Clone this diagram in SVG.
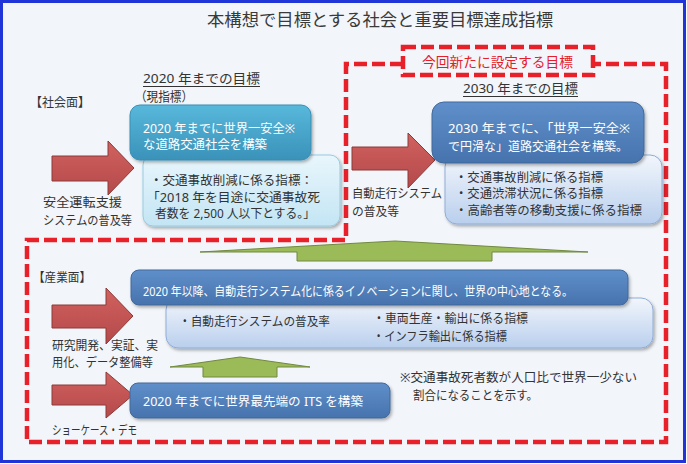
<svg xmlns="http://www.w3.org/2000/svg" width="687" height="464" viewBox="0 0 687 464">
<style>
text{font-family:"Noto Sans","Noto Sans CJK JP",sans-serif;fill:#333}
.t{font-size:12.5px}
.w{fill:#fff;font-size:12.5px}
.h{font-size:13px}
.red{fill:#e3202a;font-size:13.5px}
.dash{fill:none;stroke:#e8202a;stroke-width:4.5;stroke-dasharray:13 5}
.ul{stroke:#333;stroke-width:1}
.ra{fill:url(#gRed);stroke:#8c3a38;stroke-width:1}
.ga{fill:#9bbb59;stroke:#71893f;stroke-width:1}
.teal{fill:url(#gTeal);stroke:#3a8db3;stroke-width:1}
.blue{fill:url(#gBlue);stroke:#41689a;stroke-width:1}
.lc{fill:url(#gLc);stroke:#95cbe2;stroke-width:1}
.lb{fill:url(#gLb);stroke:#8fadd8;stroke-width:1}
</style>
<defs>
<linearGradient id="gRed" x1="0" y1="0" x2="0" y2="1"><stop offset="0" stop-color="#d0625f"/><stop offset="1" stop-color="#b5484a"/></linearGradient>
<linearGradient id="gTeal" x1="0" y1="0" x2="0" y2="1"><stop offset="0" stop-color="#58b8dc"/><stop offset="1" stop-color="#3a92b9"/></linearGradient>
<linearGradient id="gBlue" x1="0" y1="0" x2="0" y2="1"><stop offset="0" stop-color="#5f8fca"/><stop offset="1" stop-color="#4773ad"/></linearGradient>
<linearGradient id="gLc" x1="0" y1="0" x2="0" y2="1"><stop offset="0" stop-color="#e9f6fc"/><stop offset="1" stop-color="#c3e5f4"/></linearGradient>
<linearGradient id="gLb" x1="0" y1="0" x2="0" y2="1"><stop offset="0" stop-color="#f2f6fc"/><stop offset="1" stop-color="#b9cfed"/></linearGradient>
<filter id="sh" x="-10%" y="-20%" width="130%" height="150%"><feDropShadow dx="1.5" dy="2" stdDeviation="1.5" flood-color="#000" flood-opacity="0.3"/></filter>
</defs>

<rect x="1.5" y="1.5" width="683" height="460" fill="#f2f5f9" stroke="#2035d8" stroke-width="3"/>

<text x="207" y="26" style="font-size:17px;fill:#3a3a3a" textLength="346" lengthAdjust="spacingAndGlyphs">本構想で目標とする社会と重要目標達成指標</text>

<g id="outline">
<path class="dash" d="M403,64 H346 V240 H27 V442 H666 V64 H593"/>
<rect class="dash" x="403" y="47" width="190" height="28" style="fill:#f2f5f9"/>
<text class="red" x="422" y="67" textLength="151" lengthAdjust="spacingAndGlyphs">今回新たに設定する目標</text>
</g>

<g id="connectors">
<path id="arrow-social-2020" class="ra" d="M52,156 H108 V141 L134,168 L108,195 V181 H52 Z"/>
<path id="arrow-social-2030" class="ra" d="M352,147 H408 V133 L435,160 L408,188 V170 H352 Z"/>
<path id="arrow-industry-rd" class="ra" d="M52,305 H106 V288 L133,316 L106,344 V328 H52 Z"/>
<path id="arrow-industry-demo" class="ra" d="M52,385 H106 V372 L133,395 L106,418 V405 H52 Z"/>
<path id="arrow-up-top" class="ga" d="M200,252 L395,241 L588,252 L492,252 V261 H297 V252 Z"/>
<path id="arrow-up-bottom" class="ga" d="M170,367 L240,357 L310,367 L277,367 V377 H203 V367 Z"/>
</g>

<g id="label-2020">
<text class="h" x="143" y="83" textLength="117" lengthAdjust="spacingAndGlyphs">2020 年までの目標</text>
<line class="ul" x1="143" y1="86.5" x2="260" y2="86.5"/>
<text class="h" x="135" y="101" textLength="58" lengthAdjust="spacingAndGlyphs">（現指標）</text>
</g>

<g id="label-social"><text class="t" x="30" y="107" textLength="60" lengthAdjust="spacingAndGlyphs">【社会面】</text></g>

<g id="box-2020-indicator">
<rect class="lc" x="143" y="155" width="197" height="71" rx="10" filter="url(#sh)"/>
<text class="t" x="150" y="185" textLength="163" lengthAdjust="spacingAndGlyphs">・交通事故削減に係る指標：</text>
<text class="t" x="147" y="202" textLength="173" lengthAdjust="spacingAndGlyphs">「2018 年を目途に交通事故死</text>
<text class="t" x="155" y="218" textLength="160" lengthAdjust="spacingAndGlyphs">者数を 2,500 人以下とする。」</text>
</g>

<g id="box-2020-goal">
<rect class="teal" x="130" y="105" width="181" height="55" rx="10" filter="url(#sh)"/>
<text class="w" x="143" y="133" textLength="152" lengthAdjust="spacingAndGlyphs">2020 年までに世界一安全※</text>
<text class="w" x="143" y="149" textLength="124" lengthAdjust="spacingAndGlyphs">な道路交通社会を構築</text>
</g>

<g id="label-safety">
<text class="t" x="43" y="207" textLength="79" lengthAdjust="spacingAndGlyphs">安全運転支援</text>
<text class="t" x="43" y="225" textLength="89" lengthAdjust="spacingAndGlyphs">システムの普及等</text>
</g>

<g id="label-2030">
<text class="h" x="463" y="93" textLength="115" lengthAdjust="spacingAndGlyphs">2030 年までの目標</text>
<line class="ul" x1="463" y1="96.5" x2="578" y2="96.5"/>
</g>

<g id="box-2030-indicator">
<rect class="lb" x="445" y="155" width="217" height="69" rx="12" filter="url(#sh)"/>
<text class="t" x="455" y="182" textLength="148" lengthAdjust="spacingAndGlyphs">・交通事故削減に係る指標</text>
<text class="t" x="455" y="198" textLength="148" lengthAdjust="spacingAndGlyphs">・交通渋滞状況に係る指標</text>
<text class="t" x="455" y="215" textLength="187" lengthAdjust="spacingAndGlyphs">・高齢者等の移動支援に係る指標</text>
</g>

<g id="box-2030-goal">
<rect class="blue" x="432" y="102" width="212" height="61" rx="12" filter="url(#sh)"/>
<text class="w" x="448" y="133" textLength="182" lengthAdjust="spacingAndGlyphs">2030 年までに、「世界一安全※</text>
<text class="w" x="448" y="151" textLength="180" lengthAdjust="spacingAndGlyphs">で円滑な」道路交通社会を構築。</text>
</g>

<g id="label-autodrive">
<text class="t" x="352" y="198" textLength="90" lengthAdjust="spacingAndGlyphs">自動走行システム</text>
<text class="t" x="352" y="216" textLength="47" lengthAdjust="spacingAndGlyphs">の普及等</text>
</g>

<g id="label-industry"><text class="t" x="33" y="282" textLength="58" lengthAdjust="spacingAndGlyphs">【産業面】</text></g>

<g id="box-innovation-indicator">
<rect class="lb" x="166" y="298" width="487" height="50" rx="12" filter="url(#sh)"/>
<text class="t" x="179" y="326" textLength="151" lengthAdjust="spacingAndGlyphs">・自動走行システムの普及率</text>
<text class="t" x="373" y="323" textLength="155" lengthAdjust="spacingAndGlyphs">・車両生産・輸出に係る指標</text>
<text class="t" x="373" y="341" textLength="134" lengthAdjust="spacingAndGlyphs">・インフラ輸出に係る指標</text>
</g>

<g id="box-innovation-goal">
<rect class="blue" x="131" y="270" width="497" height="35" rx="8" filter="url(#sh)"/>
<text class="w" x="143" y="296" textLength="430" lengthAdjust="spacingAndGlyphs">2020 年以降、自動走行システム化に係るイノベーションに関し、世界の中心地となる。</text>
</g>

<g id="label-rd">
<text class="t" x="52" y="350" textLength="106" lengthAdjust="spacingAndGlyphs">研究開発、実証、実</text>
<text class="t" x="52" y="367" textLength="101" lengthAdjust="spacingAndGlyphs">用化、データ整備等</text>
</g>

<g id="box-its">
<rect class="blue" x="130" y="383" width="260" height="35" rx="8" filter="url(#sh)"/>
<text class="w" x="143" y="406" textLength="220" lengthAdjust="spacingAndGlyphs">2020 年までに世界最先端の ITS を構築</text>
</g>

<g id="label-demo"><text class="t" x="52" y="435" textLength="85" lengthAdjust="spacingAndGlyphs">ショーケース・デモ</text></g>

<g id="note">
<text class="t" x="400" y="382" textLength="237" lengthAdjust="spacingAndGlyphs">※交通事故死者数が人口比で世界一少ない</text>
<text class="t" x="413" y="400" textLength="125" lengthAdjust="spacingAndGlyphs">割合になることを示す。</text>
</g>
</svg>
